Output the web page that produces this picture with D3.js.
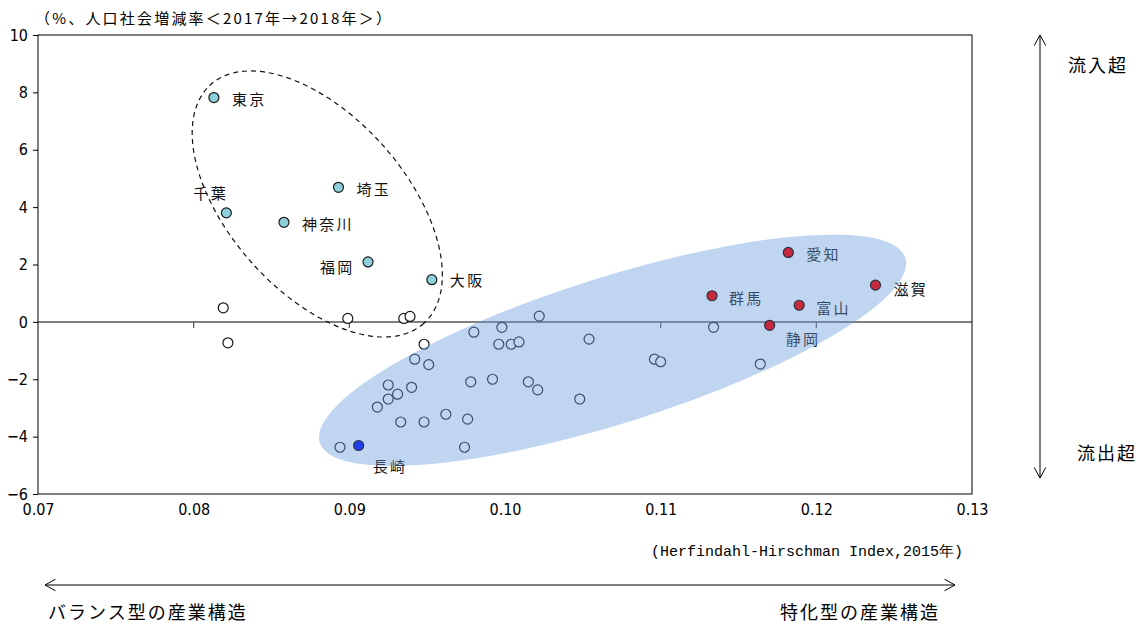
<!DOCTYPE html>
<html>
<head>
<meta charset="utf-8">
<script src="https://cdn.jsdelivr.net/npm/d3@7"></script>
<style>
  body { margin: 0; background: #fff; }
  text { font-family: "Noto Sans CJK JP", sans-serif; }
  .num { font-family: "DejaVu Sans Condensed", "Liberation Sans", sans-serif; font-stretch: condensed; }
  .mono { font-family: "Liberation Mono", monospace; }
</style>
</head>
<body>
<div id="chart"></div>
<script>
/* CONSTANTS AND GLOBALS */
const width = 1142,
  height = 624,
  margin = { top: 35, bottom: 130, left: 38, right: 170 },
  radius = 5;

// labelled prefectures
const namedPref = ["東京", "千葉", "埼玉", "神奈川", "福岡", "大阪", "愛知", "群馬", "富山", "滋賀", "静岡", "長崎"];
const namedHHI = [0.0813, 0.0821, 0.0893, 0.0858, 0.0912, 0.0953, 0.1182, 0.1133, 0.1189, 0.1238, 0.1170, 0.0906];
const namedRate = [7.82, 3.80, 4.69, 3.47, 2.09, 1.47, 2.42, 0.91, 0.58, 1.28, -0.12, -4.31];
const namedGroup = ["metro", "metro", "metro", "metro", "metro", "metro",
  "special", "special", "special", "special", "special", "nagasaki"];

// the other prefectures (no label)
const otherHHI = [0.0819, 0.0822, 0.0899, 0.0935, 0.0939, 0.1022, 0.0998, 0.0980, 0.0948, 0.0996,
  0.1004, 0.1009, 0.1054, 0.0942, 0.0951, 0.0978, 0.0992, 0.1015, 0.1021, 0.1048,
  0.0925, 0.0940, 0.0931, 0.0925, 0.0918, 0.0933, 0.0948, 0.0962, 0.0976, 0.0894,
  0.0974, 0.1134, 0.1096, 0.1100, 0.1164];
const otherRate = [0.49, -0.73, 0.12, 0.12, 0.19, 0.20, -0.19, -0.36, -0.78, -0.78,
  -0.78, -0.70, -0.60, -1.30, -1.49, -2.09, -2.00, -2.09, -2.37, -2.69,
  -2.20, -2.28, -2.52, -2.69, -2.97, -3.49, -3.49, -3.22, -3.39, -4.37,
  -4.37, -0.19, -1.30, -1.39, -1.47];

const xTicks = [0.07, 0.08, 0.09, 0.10, 0.11, 0.12, 0.13];
const yTicks = [-6, -4, -2, 0, 2, 4, 6, 8, 10];

const titleText = "（%、人口社会増減率＜2017年→2018年＞）";
const xTitle = "(Herfindahl-Hirschman Index,2015年)";

// label offset from the dot (px)
const labelPos = {
  "東京": [18, 1], "千葉": [-33, -20], "埼玉": [18, 1], "神奈川": [18, 1],
  "福岡": [-48, 5], "大阪": [18, 0], "愛知": [18, 1], "群馬": [17, 2],
  "富山": [17, 2], "滋賀": [18, 3], "静岡": [16, 13], "長崎": [14, 20]
};

const colorScale = d3.scaleOrdinal()
  .domain(["metro", "special", "nagasaki", "other"])
  .range(["#8ecfdc", "#c8283e", "#1f3cf0", "#ffffff"]);

const xScale = d3.scaleLinear()
  .domain([0.07, 0.13])
  .range([margin.left, width - margin.right]);

const yScale = d3.scaleLinear()
  .domain([-6, 10])
  .range([height - margin.bottom, margin.top]);

const svg = d3.select("#chart")
  .append("svg")
  .attr("width", width)
  .attr("height", height);

const data = namedPref.map((d, i) => ({ name: d, x: namedHHI[i], y: namedRate[i], group: namedGroup[i] }))
  .concat(otherHHI.map((d, i) => ({ name: "", x: d, y: otherRate[i], group: "other" })));

const x0 = xScale(0.07), x1 = xScale(0.13), yTop = yScale(10), yBot = yScale(-6), yZero = yScale(0);

// zero line with ticks
svg.append("line")
  .attr("x1", x0).attr("x2", x1)
  .attr("y1", yZero).attr("y2", yZero)
  .attr("stroke", "#555").attr("stroke-width", 1.5);

svg.selectAll(".xtick")
  .data(xTicks.slice(1, -1))
  .join("line")
  .attr("x1", d => xScale(d)).attr("x2", d => xScale(d))
  .attr("y1", yZero).attr("y2", yZero + 6)
  .attr("stroke", "#555").attr("stroke-width", 1.2);

// dashed ellipse around the big cities
const c1 = [xScale(0.08794), yScale(4.11)];
svg.append("ellipse")
  .attr("cx", 0).attr("cy", 0).attr("rx", 160).attr("ry", 88)
  .attr("transform", `translate(${c1[0]},${c1[1]}) rotate(48.3)`)
  .attr("fill", "none")
  .attr("stroke", "#111")
  .attr("stroke-width", 1.2)
  .attr("stroke-dasharray", "5,4");

function dots(sel) {
  sel.attr("cx", d => xScale(d.x))
    .attr("cy", d => yScale(d.y))
    .attr("r", radius)
    .attr("fill", d => colorScale(d.group))
    .attr("stroke", "#1a1a1a")
    .attr("stroke-width", 1.2);
}

// plain dots + light-blue ones (under the overlay)
svg.selectAll("circle.dot")
  .data(data.filter(d => d.group === "other" || d.group === "metro"))
  .join("circle")
  .attr("class", "dot")
  .call(dots);

// labels
svg.selectAll("text.lab")
  .data(data.filter(d => d.name))
  .join("text")
  .attr("class", "lab")
  .attr("x", d => xScale(d.x) + labelPos[d.name][0])
  .attr("y", d => yScale(d.y) + labelPos[d.name][1])
  .attr("dominant-baseline", "central")
  .attr("font-size", 15)
  .attr("letter-spacing", 2.3)
  .attr("fill", "#111")
  .text(d => d.name);

// blue translucent ellipse laid over the specialised prefectures
const c2 = [xScale(0.10691), yScale(-0.99)];
svg.append("ellipse")
  .attr("cx", 0).attr("cy", 0).attr("rx", 307).attr("ry", 73)
  .attr("transform", `translate(${c2[0]},${c2[1]}) rotate(-17.5)`)
  .attr("fill", "#6a9ad8")
  .attr("fill-opacity", 0.42);

// coloured dots stay bright on top
svg.selectAll("circle.hot")
  .data(data.filter(d => d.group === "special" || d.group === "nagasaki"))
  .join("circle")
  .attr("class", "hot")
  .call(dots)
  .attr("stroke", "#2a3140");

// plot frame
svg.append("rect")
  .attr("x", x0).attr("y", yTop)
  .attr("width", x1 - x0).attr("height", yBot - yTop)
  .attr("fill", "none").attr("stroke", "#000").attr("stroke-width", 1);

// y axis
const yAxis = d3.axisLeft(yScale).tickValues(yTicks).tickSize(5).tickFormat(d3.format("d"));
svg.append("g")
  .attr("transform", `translate(${x0},0)`)
  .call(yAxis)
  .call(g => g.select(".domain").remove())
  .call(g => g.selectAll("text").attr("class", "num").attr("font-size", 16).attr("fill", "#000").attr("dx", -2))
  .call(g => g.selectAll("line").attr("stroke", "#000"));

// x labels at the bottom
const xAxis = d3.axisBottom(xScale).tickValues(xTicks).tickSize(0).tickFormat(d3.format(".2f"));
svg.append("g")
  .attr("transform", `translate(0,${yBot})`)
  .call(xAxis)
  .call(g => g.select(".domain").remove())
  .call(g => g.selectAll("text").attr("class", "num").attr("font-size", 16).attr("fill", "#000").attr("dy", "1.1em"));

// titles
svg.append("text")
  .attr("x", 35).attr("y", 17)
  .attr("dominant-baseline", "central")
  .attr("font-size", 15)
  .attr("letter-spacing", 2.2)
  .text(titleText);

svg.append("text")
  .attr("class", "mono")
  .attr("x", 963).attr("y", 552)
  .attr("text-anchor", "end")
  .attr("dominant-baseline", "central")
  .attr("font-size", 15)
  .text(xTitle);

// arrows
function arrow(xa, ya, xb, yb) {
  svg.append("line")
    .attr("x1", xa).attr("y1", ya).attr("x2", xb).attr("y2", yb)
    .attr("stroke", "#000").attr("stroke-width", 1);
  const ang = Math.atan2(yb - ya, xb - xa);
  [[xa, ya, ang + Math.PI], [xb, yb, ang]].forEach(([px, py, a]) => {
    const l = 12, w = 0.5;
    svg.append("path")
      .attr("d", `M${px - l * Math.cos(a - w)},${py - l * Math.sin(a - w)} L${px},${py} L${px - l * Math.cos(a + w)},${py - l * Math.sin(a + w)}`)
      .attr("fill", "none").attr("stroke", "#000").attr("stroke-width", 1);
  });
}
arrow(1040, 35, 1040, 478);
arrow(45, 585, 955, 585);

svg.append("text").attr("x", 1068).attr("y", 64).attr("dominant-baseline", "central")
  .attr("font-size", 18).attr("letter-spacing", 2).text("流入超");
svg.append("text").attr("x", 1077).attr("y", 452).attr("dominant-baseline", "central")
  .attr("font-size", 18).attr("letter-spacing", 2).text("流出超");

svg.append("text").attr("x", 48).attr("y", 611).attr("dominant-baseline", "central")
  .attr("font-size", 18).attr("letter-spacing", 2).text("バランス型の産業構造");
svg.append("text").attr("x", 940).attr("y", 611).attr("dominant-baseline", "central")
  .attr("text-anchor", "end")
  .attr("font-size", 18).attr("letter-spacing", 2).text("特化型の産業構造");
</script>
</body>
</html>
